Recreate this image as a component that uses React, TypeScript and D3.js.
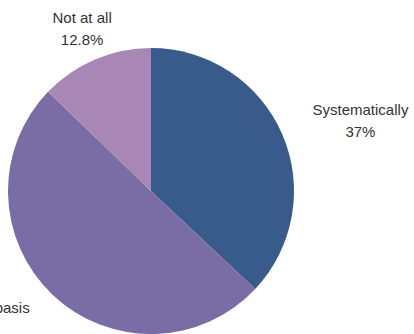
import React, { useEffect, useRef } from "react";
import * as d3 from "d3";

const categories = ["Systematically", "On an ad hoc basis", "Not at all"];
const values = [37, 50.2, 12.8];
const valueLabels = ["37%", "50.2%", "12.8%"];
const colors = ["#385b8c", "#7a6ca5", "#a886b5"];

const W = 414;
const H = 334;

export default function App() {
  const ref = useRef<SVGSVGElement | null>(null);

  useEffect(() => {
    const svg = d3.select(ref.current);
    svg.selectAll("*").remove();
    const cx = 151, cy = 191, r = 143, labelR = 176;
    const data = categories.map((c, i) => ({ c, v: values[i], l: valueLabels[i], col: colors[i] }));
    const pie = d3.pie<any>().value((d) => d.v).sort(null);
    const arcs = pie(data);
    const arc = d3.arc<any>().innerRadius(0).outerRadius(r);
    const g = svg.append("g").attr("transform", `translate(${cx},${cy})`);
    g.selectAll("path")
      .data(arcs)
      .enter()
      .append("path")
      .attr("d", arc as any)
      .attr("fill", (d: any) => d.data.col);

    arcs.forEach((a: any) => {
      const mid = (a.startAngle + a.endAngle) / 2;
      const px = cx + labelR * Math.sin(mid);
      const py = cy - labelR * Math.cos(mid);
      const lines = [a.data.c, a.data.l];
      const tg = svg.append("g");
      const texts = lines.map((t, i) =>
        tg
          .append("text")
          .attr("font-family", "'Liberation Sans', Arial, sans-serif")
          .attr("font-size", 15)
          .attr("fill", "#333")
          .attr("text-anchor", "middle")
          .attr("y", py - 6 + i * 22)
          .text(t)
      );
      const widths = texts.map((t) => (t.node() as SVGTextElement).getComputedTextLength());
      const bw = Math.max(...widths);
      const s = Math.sin(mid);
      let center = px;
      if (s > 0.5) center = px + bw / 2;
      else if (s < -0.5) center = px - bw / 2;
      texts.forEach((t) => t.attr("x", center));
    });
  }, []);

  return (
    <svg
      ref={ref}
      width={W}
      height={H}
      style={{ position: "absolute", left: 0, top: 0, background: "#fff" }}
    />
  );
}
